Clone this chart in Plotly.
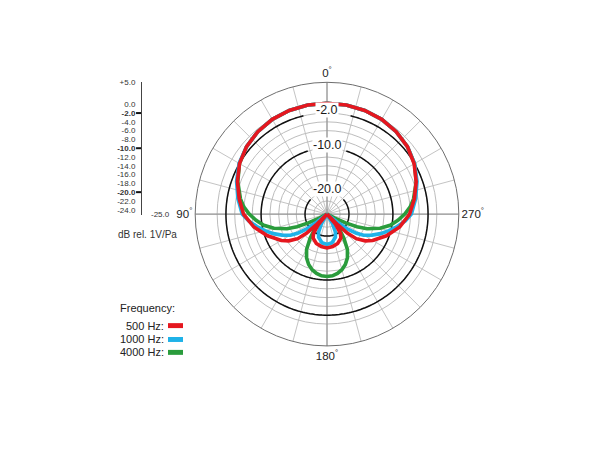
import plotly.graph_objects as go

# ---------------- data (dB rel. 1V/Pa) ----------------
theta_500 = [0, 10, 20, 30, 40, 50, 60, 70, 80, 90, 100, 110, 120, 125, 130, 133, 135, 137, 140, 145,
             150, 160, 170, 180, 190, 200, 210, 215, 220, 223, 225, 227, 230, 235, 240, 250, 260,
             270, 280, 290, 300, 310, 320, 330, 340, 350, 360]
r_500 = [0.2, 0.2, 0.1, -0.1, -0.5, -1.1, -2.0, -3.3, -4.7, -6.0, -8.1, -10.6, -13.0, -14.4, -16.3,
         -18.6, -21.5, -25.0, -22.0, -19.6, -18.7, -17.9, -17.5, -17.3, -17.5, -17.9, -18.7, -19.6,
         -22.0, -25.0, -21.5, -18.6, -16.3, -14.4, -13.0, -10.6, -8.2, -6.2, -4.8, -3.4, -2.1, -1.1,
         -0.5, -0.1, 0.1, 0.2, 0.2]

theta_1000 = [0, 10, 20, 30, 40, 50, 60, 70, 80, 90, 95, 100, 105, 110, 115, 120, 123, 126, 128, 130,
              146, 150, 155, 160, 170, 180, 190, 200, 205, 210, 214, 230, 232, 234, 237, 240, 245,
              250, 255, 260, 265, 270, 280, 290, 300, 310, 320, 330, 340, 350, 360]
r_1000 = [0.2, 0.2, 0.1, -0.1, -0.5, -1.1, -1.9, -3.1, -4.4, -5.7, -7.1, -8.8, -10.4, -12.0, -13.7,
          -15.4, -17.0, -19.3, -22.0, -25.0, -25.0, -22.5, -20.5, -19.4, -18.4, -18.1, -18.4, -19.4,
          -20.5, -22.5, -25.0, -25.0, -22.0, -19.3, -17.0, -15.4, -13.7, -12.0, -10.4, -8.8, -7.1,
          -5.8, -4.5, -3.2, -2.0, -1.1, -0.5, -0.1, 0.1, 0.2, 0.2]

theta_4000 = [0, 10, 20, 30, 40, 50, 60, 70, 80, 85, 90, 95, 100, 105, 110, 113, 115, 117, 118, 132,
              136, 140, 145, 150, 155, 160, 165, 170, 175, 180, 185, 190, 195, 200, 205, 210, 215,
              220, 224, 228, 242, 243, 245, 247, 250, 255, 260, 265, 270, 275, 280, 290, 300, 310,
              320, 330, 340, 350, 360]
r_4000 = [0.2, 0.2, 0.1, -0.1, -0.5, -1.1, -2.0, -3.4, -5.0, -6.0, -7.3, -8.8, -10.4, -12.5, -15.3,
          -17.6, -20.3, -23.0, -25.0, -25.0, -23.0, -20.8, -18.3, -15.7, -14.0, -12.8, -11.9, -11.3,
          -10.9, -10.8, -10.9, -11.3, -11.9, -12.8, -14.0, -15.7, -18.3, -20.8, -23.0, -25.0, -25.0,
          -23.0, -20.3, -17.6, -15.3, -12.5, -10.4, -8.8, -7.3, -6.0, -5.0, -3.4, -2.0, -1.1, -0.5,
          -0.1, 0.1, 0.2, 0.2]

series_names = ["500 Hz:", "1000 Hz:", "4000 Hz:"]
series_colors = ["#e5171f", "#1fb2e8", "#2a9c3c"]

radial_range = [-25, 5]
ring_values = [0, -2, -4, -6, -8, -10, -12, -14, -16, -18, -20, -22, -24]
bold_rings = [-2, -10, -20]
bold_ring_gap = [13.5, 17, 48]          # half width of the gap around each ring label (deg)
angle_ticks = list(range(0, 360, 15))
angle_labels = {0: "0", 90: "90", 180: "180", 270: "270"}

scale_vals = [5, 0, -2, -4, -6, -8, -10, -12, -14, -16, -18, -20, -22, -24]
scale_text = ["+5.0", "0.0", "<b>-2.0</b>", "-4.0", "-6.0", "-8.0", "<b>-10.0</b>", "-12.0",
              "-14.0", "-16.0", "-18.0", "<b>-20.0</b>", "-22.0", "-24.0"]

# ---------------- geometry ----------------
W, H = 610, 450
cx, cy, R = 327, 212, 133
FONT = "Liberation Sans, Arial, sans-serif"

fig = go.Figure()

# darker main axes (0-180, 90-270)
for a, b in [(0, 180), (90, 270)]:
    fig.add_trace(go.Scatterpolar(r=[radial_range[1], radial_range[0], radial_range[1]],
                                  theta=[a, a, b], mode="lines",
                                  line=dict(color="#8c8c8c", width=1), hoverinfo="skip",
                                  showlegend=False))

# bold reference rings with gaps for labels
for rv, gap in zip(bold_rings, bold_ring_gap):
    n = 240
    th = [gap + (360 - 2 * gap) * i / n for i in range(n + 1)]
    fig.add_trace(go.Scatterpolar(r=[rv] * len(th), theta=th, mode="lines",
                                  line=dict(color="#111111", width=1.5), hoverinfo="skip",
                                  showlegend=False))

# data curves (green, blue under red)
for th, rr, name, col in [(theta_4000, r_4000, series_names[2], series_colors[2]),
                          (theta_1000, r_1000, series_names[1], series_colors[1]),
                          (theta_500, r_500, series_names[0], series_colors[0])]:
    fig.add_trace(go.Scatterpolar(r=rr, theta=th, mode="lines", name=name,
                                  line=dict(color=col, width=3.6), showlegend=False))

dom_x = [(cx - R) / W, (cx + R) / W]
dom_y = [1 - (cy + R) / H, 1 - (cy - R) / H]

fig.update_layout(
    width=W, height=H, margin=dict(l=0, r=0, t=0, b=0),
    paper_bgcolor="white", plot_bgcolor="white",
    font=dict(family=FONT, color="#222"),
    polar=dict(
        domain=dict(x=dom_x, y=dom_y),
        bgcolor="white",
        angularaxis=dict(rotation=90, direction="counterclockwise",
                         tickvals=angle_ticks,
                         ticktext=[(angle_labels[a] + "<sup>°</sup>") if a in angle_labels else ""
                                   for a in angle_ticks],
                         ticks="", showline=True, linecolor="#6e6e6e", linewidth=1,
                         gridcolor="#c4c4c4", gridwidth=0.7,
                         tickfont=dict(size=11.5, color="#222")),
        radialaxis=dict(range=radial_range, tickvals=ring_values, showticklabels=False,
                        ticks="", showline=False, gridcolor="#bdbdbd", gridwidth=0.7),
    ),
)

# ---------------- left dB scale ----------------
fig.add_trace(go.Scatter(x=[0.05] * len(bold_rings), y=bold_rings, mode="markers",
                         marker=dict(symbol="line-ew", size=9,
                                     line=dict(color="#111", width=2)),
                         cliponaxis=False, hoverinfo="skip", showlegend=False,
                         xaxis="x", yaxis="y"))
fig.update_layout(
    xaxis=dict(domain=[142 / W, 149 / W], range=[0, 1], showline=True, linecolor="#444",
               linewidth=1, showticklabels=False, showgrid=False, zeroline=False, ticks="",
               anchor="y", fixedrange=True),
    yaxis=dict(domain=[1 - (cy) / H, 1 - (cy - R) / H], range=radial_range, showline=True,
               linecolor="#444", linewidth=1, ticks="inside", ticklen=3, tickcolor="#555",
               tickvals=scale_vals, ticktext=scale_text, showgrid=False, zeroline=False,
               ticklabelstandoff=4,
               tickfont=dict(size=8, color="#333", family=FONT), anchor="x",
               fixedrange=True),
    yaxis2=dict(domain=dom_y, range=[2 * radial_range[0] - radial_range[1], radial_range[1]],
                visible=False, anchor="free", position=0, fixedrange=True),
)

annotations = []
# ring labels on the polar chart
for rv in bold_rings:
    annotations.append(dict(x=cx / W, xref="paper", y=rv, yref="y2", text=f"{rv:.1f}",
                            showarrow=False, bgcolor="white", borderpad=0, yshift=3,
                            font=dict(size=12.5, color="#1a1a1a"), xanchor="center",
                            yanchor="middle"))
annotations.append(dict(x=149 / W, xref="paper", y=radial_range[0], yref="y", text="-25.0",
                        showarrow=False, xanchor="left", yanchor="middle",
                        font=dict(size=8, color="#333")))
annotations.append(dict(x=116 / W, xref="paper", y=1 - 233 / H, yref="paper",
                        text="dB rel. 1V/Pa", showarrow=False, xanchor="left",
                        yanchor="middle", font=dict(size=10, color="#333")))
# legend
annotations.append(dict(x=118 / W, xref="paper", y=1 - 307 / H, yref="paper",
                        text="Frequency:", showarrow=False, xanchor="left", yanchor="middle",
                        font=dict(size=11, color="#222")))
leg_y = [324.5, 338.5, 351.5]
shapes = []
for name, col, yy in zip(series_names, series_colors, leg_y):
    annotations.append(dict(x=165.5 / W, xref="paper", y=1 - yy / H, yref="paper", text=name,
                            showarrow=False, xanchor="right", yanchor="middle",
                            font=dict(size=11, color="#222")))
    shapes.append(dict(type="rect", xref="paper", yref="paper", x0=168 / W, x1=183 / W,
                       y0=1 - (yy + 2.5) / H, y1=1 - (yy - 2.5) / H,
                       fillcolor=col, line=dict(width=0)))

fig.update_layout(annotations=annotations, shapes=shapes)

fig.write_html("out.html")
